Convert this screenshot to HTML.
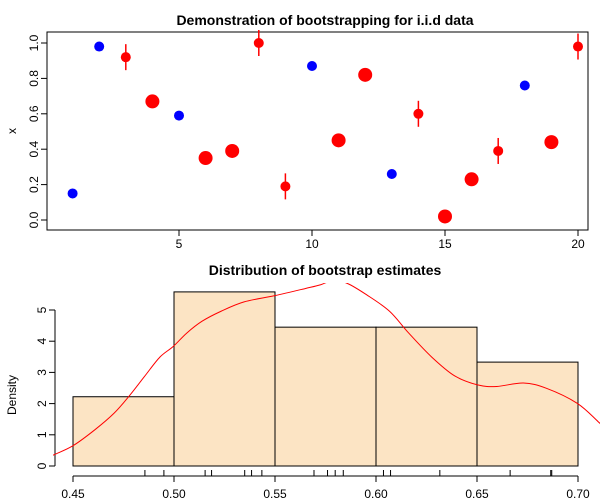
<!DOCTYPE html>
<html><head><meta charset="utf-8"><style>
body{margin:0;background:#fff}
svg{display:block;font-family:"Liberation Sans",Arial,sans-serif}
</style></head><body>
<svg id="c" width="600" height="500"></svg>
<script>
const idx=[1,2,3,4,5,6,7,8,9,10,11,12,13,14,15,16,17,18,19,20];
const xvals=[0.15,0.98,0.92,0.67,0.59,0.35,0.39,1.0,0.19,0.87,0.45,0.82,0.26,0.60,0.02,0.23,0.39,0.76,0.44,0.98];
const ptype=["b","b","s","L","b","L","L","s","s","b","L","L","b","s","L","L","s","b","L","s"];
const xTicks=[5,10,15,20];
const yTicks=["0.0","0.2","0.4","0.6","0.8","1.0"];
const binEdges=[0.45,0.50,0.55,0.60,0.65,0.70];
const binDens=[2.22,5.58,4.45,4.45,3.33];
const hxTicks=["0.45","0.50","0.55","0.60","0.65","0.70"];
const hyTicks=[0,1,2,3,4,5];
const rug=[0.4856,0.495,0.5154,0.5186,0.535,0.5384,0.5435,0.5693,0.576,0.5798,0.5838,0.6037,0.6072,0.6316,0.6664,0.6865,0.687];
const densX=[0.435,0.4409,0.45,0.4608,0.4703,0.4779,0.4854,0.493,0.4996,0.5063,0.5139,0.5233,0.5347,0.5499,0.5651,0.5726,0.579,0.5859,0.5953,0.6067,0.6162,0.6276,0.6389,0.6503,0.6598,0.673,0.6844,0.6996,0.71,0.715];
const densY=[0.2,0.37,0.65,1.16,1.69,2.25,2.87,3.49,3.83,4.26,4.64,4.96,5.26,5.46,5.69,5.81,5.95,5.85,5.49,4.96,4.26,3.49,2.89,2.60,2.55,2.66,2.49,2.01,1.42,1.1];

const svg=document.getElementById('c');
const NS='http://www.w3.org/2000/svg';
function mk(t,a,p){const e=document.createElementNS(NS,t);for(const k in a)e.setAttribute(k,a[k]);(p||svg).appendChild(e);return e;}

const sx=v=>72.6+(v-1)*26.6;
const sy=v=>220-v*177;
let e;
e=mk('text',{x:325,y:25,'text-anchor':'middle','font-size':14,'font-weight':'bold'});e.textContent='Demonstration of bootstrapping for i.i.d data';

e=mk('rect',{x:47,y:32,width:541,height:198,fill:'none',stroke:'#000','stroke-width':1});

e=mk('text',{x:16,y:131,'text-anchor':'middle','font-size':12,transform:'rotate(-90 16 131)'});e.textContent='x';

xTicks.forEach(t=>{
  mk('line',{x1:sx(t),x2:sx(t),y1:230,y2:236,stroke:'#000'});
  e=mk('text',{x:sx(t),y:248,'text-anchor':'middle','font-size':12});e.textContent=t;
  
});
yTicks.forEach(t=>{
  const y=sy(+t);
  mk('line',{x1:41,x2:47,y1:y,y2:y,stroke:'#000'});
  e=mk('text',{x:38,y:y,'text-anchor':'middle','font-size':12,transform:`rotate(-90 38 ${y})`});e.textContent=t;
  
});
idx.forEach((i,k)=>{
  const cx=sx(i),cy=sy(xvals[k]),t=ptype[k];
  if(t==='s'){e=mk('line',{x1:cx,x2:cx,y1:cy-13,y2:cy+13,stroke:'red','stroke-width':1.5});
    }
  e=mk('circle',{cx:cx,cy:cy,r:t==='L'?7:5,fill:t==='b'?'blue':'red'});
  
});

const hx=v=>73+(v-0.45)*2020;
const hy=v=>466-v*31.2;
e=mk('text',{x:325,y:275,'text-anchor':'middle','font-size':14,'font-weight':'bold'});e.textContent='Distribution of bootstrap estimates';

binDens.forEach((d,k)=>{
  e=mk('rect',{x:hx(binEdges[k]),y:hy(d),width:hx(binEdges[k+1])-hx(binEdges[k]),height:466-hy(d),fill:'#fce4c4',stroke:'#000','stroke-width':1});
  
});
mk('line',{x1:55,x2:55,y1:hy(0),y2:hy(5),stroke:'#000'});
hyTicks.forEach(t=>{
  const y=hy(t);
  mk('line',{x1:49,x2:55,y1:y,y2:y,stroke:'#000'});
  e=mk('text',{x:46,y:y,'text-anchor':'middle','font-size':12,transform:`rotate(-90 46 ${y})`});e.textContent=t;
  
});
e=mk('text',{x:16,y:395,'text-anchor':'middle','font-size':12,transform:'rotate(-90 16 395)'});e.textContent='Density';

mk('line',{x1:hx(0.45),x2:hx(0.70),y1:476,y2:476,stroke:'#000'});
hxTicks.forEach(t=>{
  const x=hx(+t);
  mk('line',{x1:x,x2:x,y1:476,y2:482,stroke:'#000'});
  e=mk('text',{x:x,y:498,'text-anchor':'middle','font-size':12});e.textContent=t;
  
});
rug.forEach(r=>{
  e=mk('line',{x1:hx(r),x2:hx(r),y1:470,y2:476,stroke:'#000'});
  
});
const defs=mk('defs',{});
const cp=mk('clipPath',{id:'clip'},defs);
mk('rect',{x:53,y:283,width:547,height:200},cp);
const P=densX.map((v,k)=>[hx(v),hy(densY[k])]);
let d='M'+P[0][0]+','+P[0][1];
for(let i=0;i<P.length-1;i++){
  const p0=P[Math.max(0,i-1)],p1=P[i],p2=P[i+1],p3=P[Math.min(P.length-1,i+2)];
  const c1=[p1[0]+(p2[0]-p0[0])/6,p1[1]+(p2[1]-p0[1])/6];
  const c2=[p2[0]-(p3[0]-p1[0])/6,p2[1]-(p3[1]-p1[1])/6];
  d+=` C${c1[0]},${c1[1]} ${c2[0]},${c2[1]} ${p2[0]},${p2[1]}`;
}
e=mk('path',{d:d,fill:'none',stroke:'red','stroke-width':1,'clip-path':'url(#clip)'});

</script>
</body></html>
